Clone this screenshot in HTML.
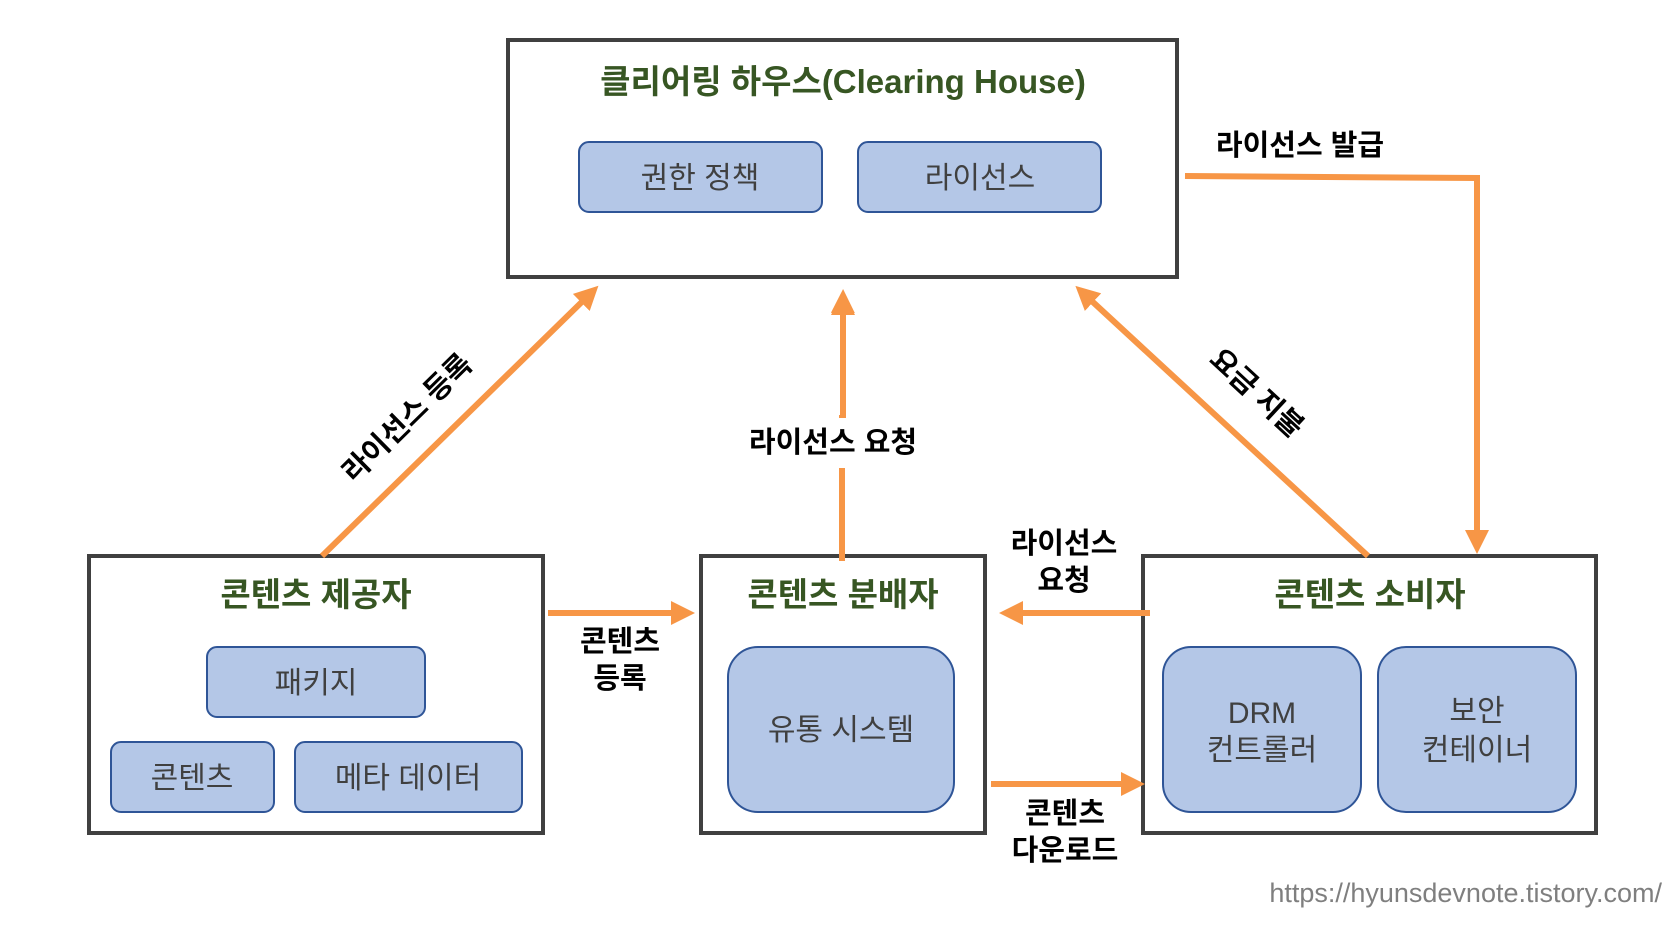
<!DOCTYPE html>
<html><head><meta charset="utf-8"><style>
html,body{margin:0;padding:0;background:#fff}
svg{display:block}
text{font-family:"Liberation Sans","Noto Sans CJK KR",sans-serif}
.t{fill:#375623;font-weight:bold;font-size:33px}
.in{fill:#404040;font-size:30px}
.lb{fill:#000;font-weight:bold;font-size:29px}
</style></head><body>
<svg width="1680" height="941" viewBox="0 0 1680 941" xmlns="http://www.w3.org/2000/svg">
<defs>
<marker id="ah" markerWidth="4" markerHeight="4" refX="2.5" refY="2" orient="auto" markerUnits="strokeWidth">
<path d="M0,0 L4,2 L0,4 Z" fill="#f79646"/></marker>
</defs>
<g fill="#fff" stroke="#404040" stroke-width="4">
<rect x="508" y="40" width="669" height="237"/>
<rect x="89" y="556" width="454" height="277"/>
<rect x="701" y="556" width="284" height="277"/>
<rect x="1143" y="556" width="453" height="277"/>
</g>
<g fill="#b4c7e7" stroke="#2f5597" stroke-width="2">
<rect x="579" y="142" width="243" height="70" rx="10"/>
<rect x="858" y="142" width="243" height="70" rx="10"/>
<rect x="207" y="647" width="218" height="70" rx="10"/>
<rect x="111" y="742" width="163" height="70" rx="10"/>
<rect x="295" y="742" width="227" height="70" rx="10"/>
<rect x="728" y="647" width="226" height="165" rx="30"/>
<rect x="1163" y="647" width="198" height="165" rx="28"/>
<rect x="1378" y="647" width="198" height="165" rx="28"/>
</g>
<g text-anchor="middle">
<text class="t" x="843" y="93">클리어링 하우스(Clearing House)</text>
<text class="t" x="316" y="606">콘텐츠 제공자</text>
<text class="t" x="843" y="606">콘텐츠 분배자</text>
<text class="t" x="1370" y="606">콘텐츠 소비자</text>
<text class="in" x="700" y="188">권한 정책</text>
<text class="in" x="980" y="188">라이선스</text>
<text class="in" x="316" y="693">패키지</text>
<text class="in" x="192" y="788">콘텐츠</text>
<text class="in" x="408" y="788">메타 데이터</text>
<text class="in" x="841" y="740">유통 시스템</text>
<text class="in" x="1262" y="723">DRM</text>
<text class="in" x="1262" y="760">컨트롤러</text>
<text class="in" x="1477" y="721">보안</text>
<text class="in" x="1477" y="760">컨테이너</text>
</g>
<g stroke="#f79646" stroke-width="6" fill="none">
<line x1="322" y1="556" x2="592" y2="292" marker-end="url(#ah)"/>
<line x1="842" y1="561" x2="842" y2="415"/>
<line x1="842" y1="415" x2="843" y2="298" marker-end="url(#ah)" stroke="none"/>
<line x1="843" y1="418" x2="843" y2="470" stroke="none"/>
<line x1="1368" y1="556" x2="1082" y2="292" marker-end="url(#ah)"/>
<polyline points="1185,176 1477,178 1477,545" marker-end="url(#ah)"/>
<line x1="548" y1="613" x2="686" y2="613" marker-end="url(#ah)"/>
<line x1="1150" y1="613" x2="1008" y2="613" marker-end="url(#ah)"/>
<line x1="991" y1="784" x2="1136" y2="784" marker-end="url(#ah)"/>
</g>
<rect x="780" y="418" width="120" height="50" fill="#fff"/>
<line x1="843" y1="418" x2="843" y2="300" stroke="#f79646" stroke-width="6" marker-end="url(#ah)"/>
<rect x="720" y="420" width="230" height="42" fill="#fff"/>
<g text-anchor="middle">
<text class="lb" x="833" y="452">라이선스 요청</text>
<text class="lb" x="1300" y="155">라이선스 발급</text>
<text class="lb" x="620" y="651">콘텐츠</text>
<text class="lb" x="620" y="688">등록</text>
<text class="lb" x="1064" y="553">라이선스</text>
<text class="lb" x="1064" y="590">요청</text>
<text class="lb" x="1065" y="823">콘텐츠</text>
<text class="lb" x="1065" y="860">다운로드</text>
<text class="lb" transform="translate(414,425) rotate(-44.5)" x="0" y="0">라이선스 등록</text>
<text class="lb" transform="translate(1250,400) rotate(42.7)" x="0" y="0">요금 지불</text>
</g>
<text x="1662" y="902" text-anchor="end" fill="#7f7f7f" font-size="27" style="font-family:'Liberation Sans',sans-serif">https://hyunsdevnote.tistory.com/</text>
</svg>
</body></html>
